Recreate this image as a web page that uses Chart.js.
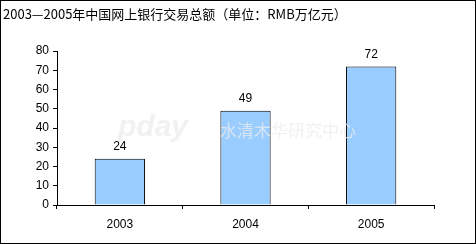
<!DOCTYPE html>
<html>
<head>
<meta charset="utf-8">
<script src="https://cdn.jsdelivr.net/npm/chart.js@4"></script>
<style>
  html, body { margin: 0; padding: 0; background: #fff; }
  #wrap { width: 476px; height: 244px; }
</style>
</head>
<body>
<div id="wrap"><canvas id="bankChart" width="476" height="244"></canvas></div>
<script>
const title = '2003—2005年中国网上银行交易总额（单位：RMB万亿元）';
const years = ['2003', '2004', '2005'];
const volume = [24, 49, 72];
const yTicks = [0, 10, 20, 30, 40, 50, 60, 70, 80];

// title, frame, watermark and value labels
const decor = {
    id: 'decor',
    beforeDraw(chart) {
        const c = chart.ctx;
        c.save();
        c.fillStyle = '#fff';
        c.fillRect(0, 0, chart.width, chart.height);
        c.restore();
    },
    afterDatasetsDraw(chart) {
        // faint watermark over the bars
        const c = chart.ctx;
        c.save();
        c.fillStyle = 'rgba(236,236,236,0.75)';
        c.textBaseline = 'middle';
        c.font = 'italic bold 30px "Liberation Sans"';
        c.fillText('pday', 118, 128);
        c.font = '17px "Noto Sans CJK SC"';
        c.fillText('水清木华研究中心', 220, 131);
        c.restore();
    },
    afterDraw(chart) {
        const c = chart.ctx;
        c.save();
        c.strokeStyle = '#000';
        c.lineWidth = 1;
        c.strokeRect(0.5, 0.5, chart.width - 1, chart.height - 1);
        c.fillStyle = '#000';
        c.font = '13px "Noto Sans CJK SC"';
        c.textBaseline = 'middle';
        c.fillText(title, 3, 14);
        c.font = '12px "Liberation Sans"';
        c.textAlign = 'center';
        c.textBaseline = 'bottom';
        chart.getDatasetMeta(0).data.forEach((bar, i) => {
            c.fillText(volume[i], bar.x, bar.y - 6);
        });
        c.restore();
    }
};

new Chart(document.getElementById('bankChart'), {
    type: 'bar',
    data: {
        labels: years,
        datasets: [{
            data: volume,
            backgroundColor: '#99ccff',
            borderColor: '#000',
            borderWidth: 1,
            categoryPercentage: 1,
            barPercentage: 0.4
        }]
    },
    options: {
        responsive: false,
        animation: false,
        events: [],
        layout: { padding: { top: 51, right: 42, bottom: 0, left: 0 } },
        plugins: { legend: { display: false }, tooltip: { enabled: false } },
        scales: {
            x: {
                afterFit: s => { s.height = 39; },
                grid: { display: true, drawOnChartArea: false, offset: true, color: '#000', tickLength: 4 },
                border: { color: '#000', width: 1 },
                ticks: { color: '#000', font: { family: 'Liberation Sans', size: 12 }, padding: 8 }
            },
            y: {
                min: 0,
                max: 80,
                afterFit: s => { s.width = 57; },
                afterBuildTicks: s => { s.ticks = yTicks.map(v => ({ value: v })); },
                grid: { display: true, drawOnChartArea: false, color: '#000', tickLength: 4 },
                border: { color: '#000', width: 1 },
                ticks: { color: '#000', font: { family: 'Liberation Sans', size: 12 }, padding: 4 }
            }
        }
    },
    plugins: [decor]
});
</script>
</body>
</html>
